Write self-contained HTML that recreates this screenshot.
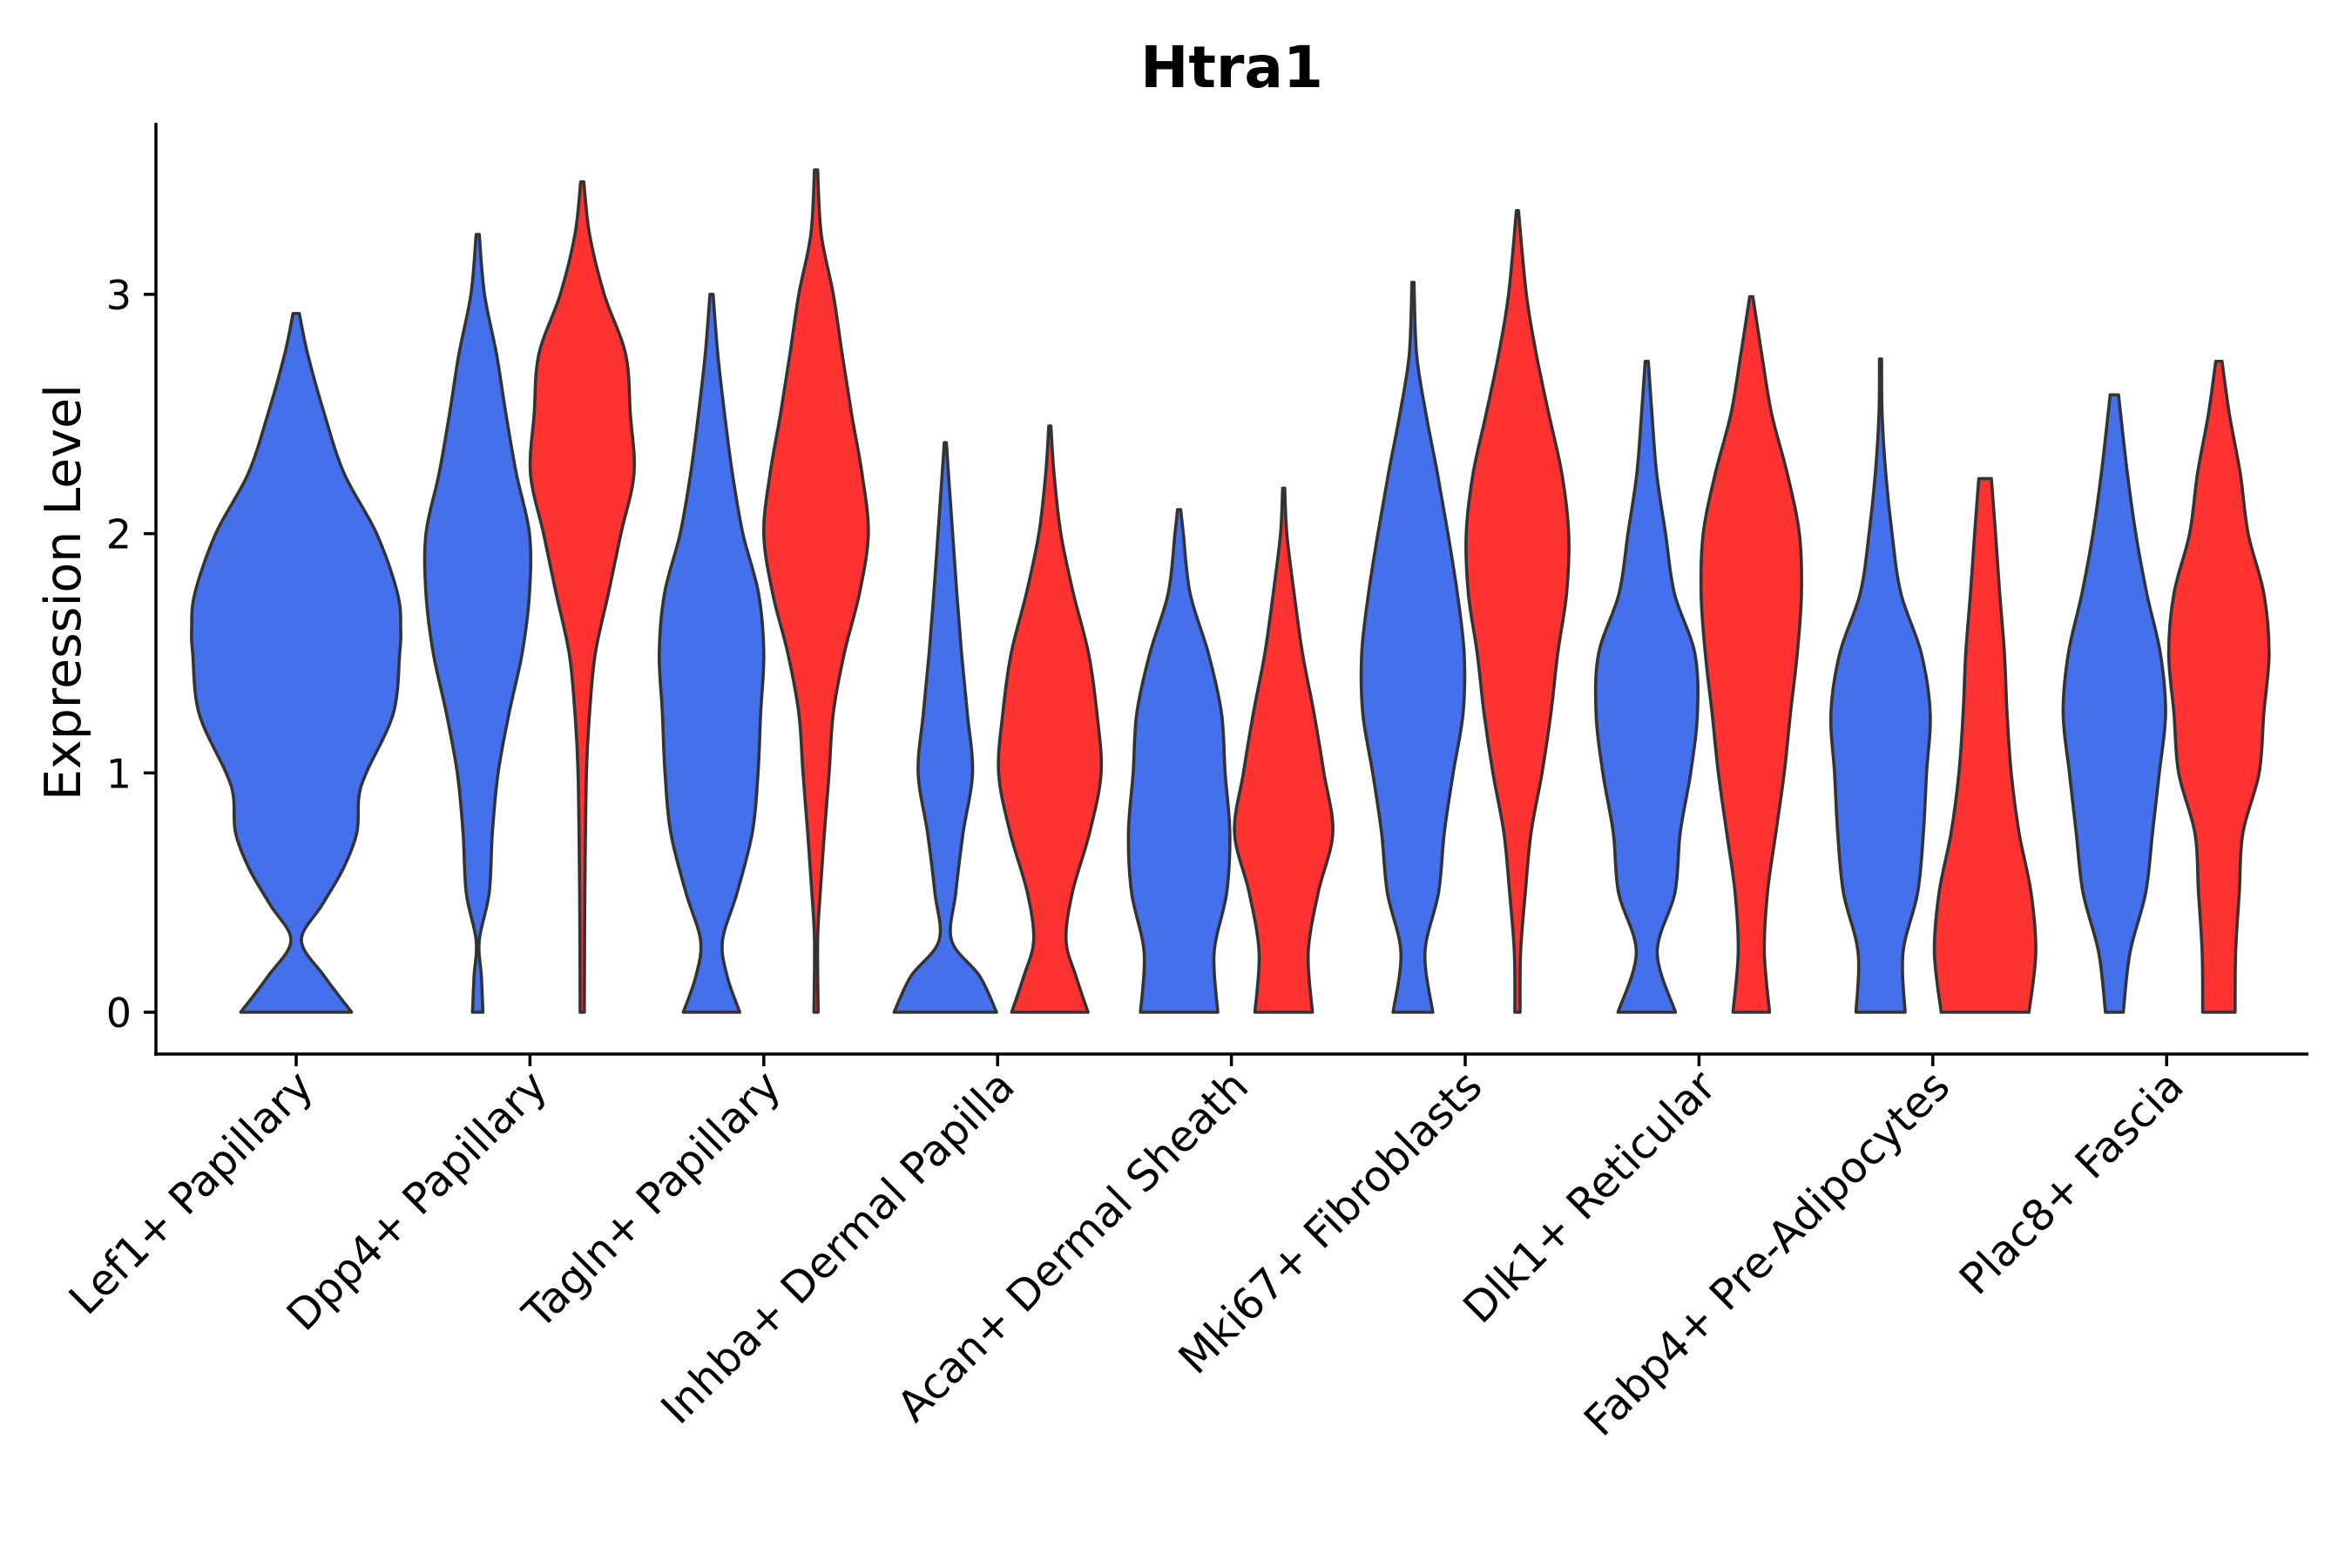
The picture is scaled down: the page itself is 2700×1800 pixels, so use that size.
<!DOCTYPE html>
<html><head><meta charset="utf-8"><style>
html,body{margin:0;padding:0;background:#fff;}
svg{display:block;font-family:"DejaVu Sans","Liberation Sans",sans-serif;}
</style></head><body>
<svg id="chart" width="2700" height="1800" viewBox="0 0 2700 1800" xmlns="http://www.w3.org/2000/svg">
<text x="1414" y="100" font-size="66" font-weight="bold" text-anchor="middle">Htra1</text>
<text x="0" y="0" font-size="57" text-anchor="middle" transform="translate(92,680) rotate(-90)">Expression Level</text>
<g id="violins"></g>
<g id="axes"></g>
</svg>
<script>
const categories = ["Lef1+ Papillary","Dpp4+ Papillary","Tagln+ Papillary","Inhba+ Dermal Papilla","Acan+ Dermal Sheath","Mki67+ Fibroblasts","Dlk1+ Reticular","Fabp4+ Pre-Adipocytes","Plac8+ Fascia"];
const yTicks = [0,1,2,3];
const violinCat = [0,1,1,2,2,3,3,4,4,5,5,6,6,7,7,8,8];
const violinGroup = [0,0,1,0,1,0,1,0,1,0,1,0,1,0,1,0,1];
const violinSingle = [1,0,0,0,0,0,0,0,0,0,0,0,0,0,0,0,0];
const violinLevels = [
 [0,0.15,0.3,0.45,0.6,0.75,0.9,1.0,1.25,1.5,1.6,1.75,2.0,2.25,2.5,2.75,2.92],
 [0,0.15,0.3,0.5,0.75,1.0,1.25,1.5,1.75,2.0,2.25,2.5,2.75,3.0,3.25],
 [0,0.5,1.0,1.25,1.5,1.75,2.0,2.25,2.5,2.75,3.0,3.25,3.47],
 [0,0.15,0.3,0.5,0.75,1.0,1.25,1.5,1.75,2.0,2.25,2.5,2.75,3.0],
 [0,0.3,0.5,0.75,1.0,1.25,1.5,1.75,2.0,2.25,2.5,2.75,3.0,3.25,3.52],
 [0,0.15,0.3,0.5,0.75,1.0,1.25,1.5,1.75,2.0,2.25,2.38],
 [0,0.15,0.3,0.5,0.75,1.0,1.25,1.5,1.75,2.0,2.25,2.45],
 [0,0.25,0.5,0.75,1.0,1.25,1.5,1.75,2.0,2.1],
 [0,0.25,0.5,0.75,1.0,1.25,1.5,1.75,2.0,2.19],
 [0,0.25,0.5,0.75,1.0,1.25,1.5,1.75,2.0,2.25,2.5,2.75,3.05],
 [0,0.25,0.5,0.75,1.0,1.25,1.5,1.75,2.0,2.25,2.5,2.75,3.0,3.35],
 [0,0.25,0.5,0.75,1.0,1.25,1.5,1.75,2.0,2.25,2.5,2.72],
 [0,0.25,0.5,0.75,1.0,1.25,1.5,1.75,2.0,2.25,2.5,2.75,2.99],
 [0,0.25,0.5,0.75,1.0,1.25,1.5,1.75,2.0,2.25,2.5,2.73],
 [0,0.25,0.5,0.75,1.0,1.25,1.5,1.75,2.0,2.23],
 [0,0.25,0.5,0.75,1.0,1.25,1.5,1.75,2.0,2.25,2.5,2.58],
 [0,0.25,0.5,0.75,1.0,1.25,1.5,1.75,2.0,2.25,2.5,2.72]
];
const violinWidths = [
 [0.53,0.27,0.05,0.25,0.45,0.58,0.6,0.67,0.93,0.99,1,0.97,0.77,0.46,0.27,0.11,0.03],
 [0.1,0.07,0.03,0.22,0.28,0.39,0.6,0.85,0.99,0.99,0.74,0.54,0.36,0.13,0.03],
 [0.04,0.05,0.08,0.14,0.25,0.5,0.74,0.99,0.92,0.83,0.42,0.14,0.03],
 [0.54,0.3,0.21,0.49,0.78,0.89,0.94,1.0,0.9,0.6,0.4,0.25,0.12,0.03],
 [0.04,0.03,0.08,0.16,0.25,0.33,0.54,0.83,1.0,0.88,0.68,0.5,0.33,0.1,0.03],
 [0.98,0.66,0.12,0.2,0.34,0.52,0.42,0.31,0.22,0.14,0.06,0.02],
 [0.73,0.5,0.31,0.43,0.76,0.98,0.9,0.74,0.45,0.21,0.08,0.02],
 [0.74,0.67,0.91,0.97,0.88,0.81,0.56,0.21,0.08,0.03],
 [0.55,0.47,0.66,0.94,0.77,0.58,0.36,0.2,0.06,0.02],
 [0.38,0.23,0.49,0.6,0.77,0.96,0.98,0.85,0.67,0.47,0.25,0.07,0.02],
 [0.05,0.06,0.15,0.26,0.47,0.64,0.77,0.94,0.98,0.85,0.6,0.36,0.17,0.02],
 [0.55,0.2,0.54,0.64,0.84,0.97,0.92,0.53,0.36,0.19,0.1,0.03],
 [0.35,0.25,0.31,0.47,0.63,0.75,0.88,0.96,0.92,0.69,0.39,0.2,0.03],
 [0.47,0.43,0.71,0.82,0.88,0.95,0.78,0.39,0.22,0.1,0.03,0.02],
 [0.84,0.97,0.88,0.65,0.5,0.42,0.37,0.28,0.2,0.12],
 [0.17,0.3,0.6,0.73,0.86,0.98,0.88,0.62,0.41,0.25,0.12,0.08],
 [0.31,0.32,0.39,0.46,0.77,0.86,0.96,0.86,0.56,0.41,0.2,0.06]
];
const colors = ["#4570eb","#ff3232"];
const X0=179, X1=2650, Y0=141, Ybot=1210;
function xScale(i){ return 340 + i*268.4; }
function yScale(v){ return 1162 - v*274.7; }
const NS="http://www.w3.org/2000/svg";
const vg=document.getElementById('violins');
function spline(pts){
  let d="";
  for(let i=0;i<pts.length-1;i++){
    const p0=pts[Math.max(0,i-1)],p1=pts[i],p2=pts[i+1],p3=pts[Math.min(pts.length-1,i+2)];
    const c1=[p1[0]+(p2[0]-p0[0])/6,p1[1]+(p2[1]-p0[1])/6];
    const c2=[p2[0]-(p3[0]-p1[0])/6,p2[1]-(p3[1]-p1[1])/6];
    d+=` C${c1[0].toFixed(1)},${c1[1].toFixed(1)} ${c2[0].toFixed(1)},${c2[1].toFixed(1)} ${p2[0].toFixed(1)},${p2[1].toFixed(1)}`;
  }
  return d;
}
for(let k=0;k<violinCat.length;k++){
  const single=violinSingle[k];
  const cx = xScale(violinCat[k]) + (single?0:(violinGroup[k]?60:-60));
  const W = single?120:60;
  const lv=violinLevels[k], wv=violinWidths[k];
  const right=lv.map((v,i)=>[cx+wv[i]*W, yScale(v)]);
  const left=lv.map((v,i)=>[cx-wv[i]*W, yScale(v)]).reverse();
  let d=`M${left[left.length-1][0].toFixed(1)},${left[left.length-1][1].toFixed(1)} L${right[0][0].toFixed(1)},${right[0][1].toFixed(1)}`;
  d+=spline(right);
  d+=` L${left[0][0].toFixed(1)},${left[0][1].toFixed(1)}`;
  d+=spline(left);
  d+=" Z";
  const p=document.createElementNS(NS,'path');
  p.setAttribute('d',d);
  p.setAttribute('fill',colors[violinGroup[k]]);
  p.setAttribute('stroke','#333');
  p.setAttribute('stroke-width','3.6');
  p.setAttribute('stroke-linejoin','round');
  
  
  vg.appendChild(p);
}
const ax=document.getElementById('axes');
function line(x1,y1,x2,y2,w){
  const l=document.createElementNS(NS,'line');
  l.setAttribute('x1',x1);l.setAttribute('y1',y1);l.setAttribute('x2',x2);l.setAttribute('y2',y2);
  l.setAttribute('stroke','#000');l.setAttribute('stroke-width',w);
  ax.appendChild(l); return l;
}
const ya=line(X0,Y0,X0,Ybot+2,3.5);


const xa=line(X0-2,Ybot,X1,Ybot,3.5);


yTicks.forEach(v=>{
  const y=yScale(v);
  const t=line(X0-14,y,X0,y,3.5);
  
  
  const tx=document.createElementNS(NS,'text');
  tx.setAttribute('x',X0-28);tx.setAttribute('y',y+17);
  tx.setAttribute('font-size','46');tx.setAttribute('text-anchor','end');
  tx.textContent=v;
  
  
  ax.appendChild(tx);
});
categories.forEach((c,i)=>{
  const x=xScale(i);
  const t=line(x,Ybot,x,Ybot+14,3.5);
  
  
  const tx=document.createElementNS(NS,'text');
  tx.setAttribute('font-size','49');tx.setAttribute('text-anchor','end');
  tx.setAttribute('transform',`translate(${x+22},${Ybot+40}) rotate(-45)`);
  tx.textContent=c;
  
  
  ax.appendChild(tx);
});
</script>
</body></html>
